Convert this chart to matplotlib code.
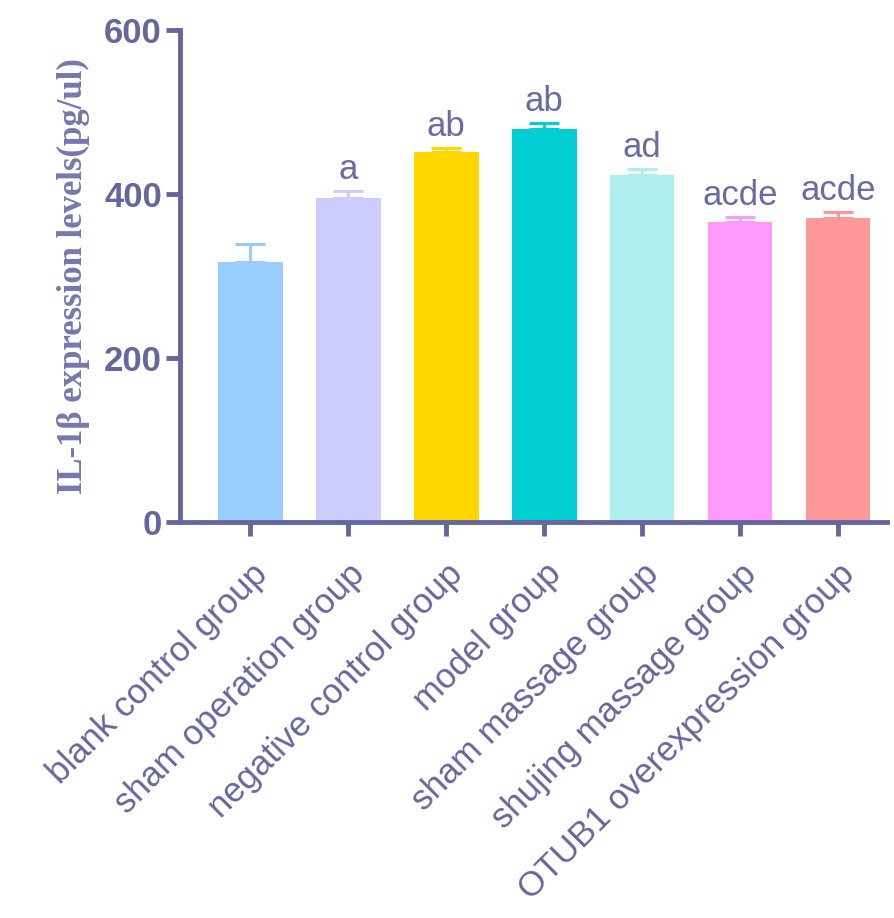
import matplotlib
matplotlib.use("Agg")
from matplotlib import pyplot as plt
import numpy as np

# Groups and values
GROUPS = ["blank control group", "sham operation group", "negative control group",
          "model group", "sham massage group", "shujing massage group",
          "OTUB1 overexpression group"]
MEANS = [318, 395, 451, 480, 423, 366, 371]
ERRORS = [21, 9, 6, 7, 8, 6, 8]
LETTERS = ["", "a", "ab", "ab", "ad", "acde", "acde"]
COLORS = ["#99CCFF", "#CCCCFF", "#FFD700", "#00CED1", "#AFEEEE", "#FF99FF", "#FF9999"]
YTICKS = [0, 200, 400, 600]

AXIS_COLOR = "#66669E"
TEXT_COLOR = "#6A6AA6"

plt.rcParams['font.family'] = ['Liberation Sans', 'DejaVu Sans']

fig = plt.figure(figsize=(8.95, 9.18), dpi=100)
ax = fig.add_axes([0.201, 0.431, 0.79, 0.536])

x = np.arange(len(GROUPS))
ax.bar(x, MEANS, width=0.66, color=COLORS, zorder=2)
for xi, m, e, c in zip(x, MEANS, ERRORS, COLORS):
    ax.errorbar(xi, m, yerr=[[0], [e]], fmt="none", ecolor=c, elinewidth=2.2,
                capsize=11, capthick=2.2, zorder=3)

# significance letters
for xi, m, e, lab in zip(x, MEANS, ERRORS, LETTERS):
    if lab:
        ax.text(xi, m + e + 6, lab, ha="center", va="bottom", fontsize=25,
                color=TEXT_COLOR)

ax.set_xlim(-0.72, 6.5)
ax.set_ylim(0, 600)
ax.set_yticks(YTICKS)
ax.set_yticklabels([str(t) for t in YTICKS], fontsize=25, fontweight="bold",
                   color=AXIS_COLOR)
ax.set_xticks(x)
ax.set_xticklabels(GROUPS, rotation=45, ha="right", va="top",
                   rotation_mode="anchor", fontsize=25, color=TEXT_COLOR)

for s in ["top", "right"]:
    ax.spines[s].set_visible(False)
for s in ["left", "bottom"]:
    ax.spines[s].set_color(AXIS_COLOR)
    ax.spines[s].set_linewidth(3.5)
ax.tick_params(axis="both", colors=AXIS_COLOR, width=3.5, length=10)
ax.tick_params(axis="x", pad=15)
ax.tick_params(axis="y", pad=3)

ax.set_ylabel("IL-1β expression levels(pg/ul)", family=["Liberation Serif", "DejaVu Serif"],
              fontweight="bold", fontsize=25, color="#7777B0", labelpad=10)

fig.savefig("out.png", dpi=100)
